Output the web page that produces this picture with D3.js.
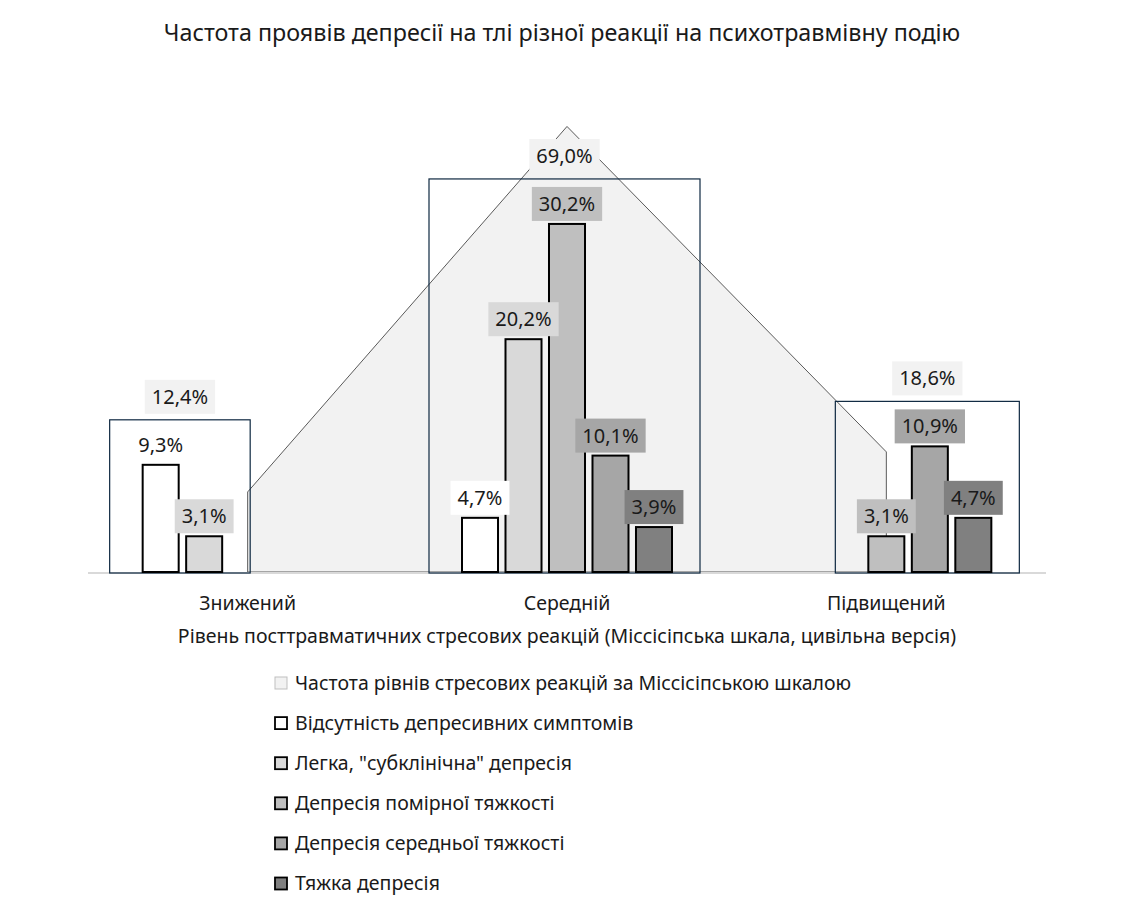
<!DOCTYPE html>
<html>
<head>
<meta charset="utf-8">
<script src="https://cdn.jsdelivr.net/npm/d3@7"></script>
<style>
  body { margin: 0; background: #fff; }
  text { font-family: "Noto Sans", sans-serif; fill: #1a1a1a; }
</style>
</head>
<body>
<div id="chart"></div>
<script>
const categories = ["Знижений", "Середній", "Підвищений"];
const totals = [12.4, 69.0, 18.6];
const seriesNames = [
    "Відсутність депресивних симптомів",
    "Легка, \"субклінічна\" депресія",
    "Депресія помірної тяжкості",
    "Депресія середньої тяжкості",
    "Тяжка депресія"
];
const noSymptoms = [9.3, 4.7, 0];
const mild = [3.1, 20.2, 0];
const moderate = [0, 30.2, 3.1];
const medium = [0, 10.1, 10.9];
const severe = [0, 3.9, 4.7];
const totalName = "Частота рівнів стресових реакцій за Міссісіпською шкалою";

const seriesValues = [noSymptoms, mild, moderate, medium, severe];
const fills = ["#ffffff", "#d9d9d9", "#bfbfbf", "#a6a6a6", "#808080"];

const width = 1125, height = 913;
const baseY = 572;

const svg = d3.select("#chart")
    .append("svg")
    .attr("width", width)
    .attr("height", height);

const fmt = v => d3.format(".1f")(v).replace(".", ",") + "%";

const x0 = d3.scaleBand().domain(categories).range([88, 1046]);
const x1 = d3.scaleBand().domain(d3.range(5)).range([-105, 105]).paddingInner(0.172);
const y = d3.scaleLinear().domain([0, 40]).range([baseY, 111]);
const y2 = d3.scaleLinear().domain([0, 70]).range([baseY, 120]);
const cx = c => x0(c) + x0.bandwidth() / 2;

// title
svg.append("text")
    .attr("x", 562).attr("y", 41)
    .attr("text-anchor", "middle")
    .style("font-size", "23.3px")
    .text("Частота проявів депресії на тлі різної реакції на психотравмівну подію");

// area of totals
const areaGen = d3.area()
    .x((d, i) => cx(categories[i]))
    .y0(baseY)
    .y1(d => y2(d));
svg.append("path")
    .datum(totals)
    .attr("d", areaGen)
    .attr("fill", "#f2f2f2")
    .attr("stroke", "#595959")
    .attr("stroke-width", 1);

// axis line
svg.append("line")
    .attr("x1", 88).attr("x2", 1046)
    .attr("y1", baseY + 1).attr("y2", baseY + 1)
    .attr("stroke", "#d9d9d9")
    .attr("stroke-width", 2);

// group frames
const groups = categories.map((c, ci) => {
    const vis = d3.range(5).filter(s => seriesValues[s][ci] > 0);
    const left = cx(c) + x1(vis[0]) - 33;
    const right = cx(c) + x1(vis[vis.length - 1]) + x1.bandwidth() + 28;
    const top = y(d3.max(vis, s => seriesValues[s][ci])) - 45;
    return { c, ci, left, right, top };
});

svg.append("g")
    .selectAll("rect")
    .data(groups)
    .join("rect")
    .attr("x", d => d.left)
    .attr("y", d => d.top)
    .attr("width", d => d.right - d.left)
    .attr("height", d => baseY + 1 - d.top)
    .attr("fill", "none")
    .attr("stroke", "#0e2841")
    .attr("stroke-width", 1.2);

// bars
const bars = [];
categories.forEach((c, ci) => {
    seriesValues.forEach((vals, s) => {
        if (vals[ci] > 0) bars.push({ c, s, v: vals[ci] });
    });
});

svg.append("g")
    .selectAll("rect")
    .data(bars)
    .join("rect")
    .attr("x", d => cx(d.c) + x1(d.s))
    .attr("y", d => y(d.v))
    .attr("width", x1.bandwidth())
    .attr("height", d => baseY - y(d.v))
    .attr("fill", d => fills[d.s])
    .attr("stroke", "#000")
    .attr("stroke-width", 2);

// labels with background
function label(g, xc, yc, txt, bg) {
    const t = g.append("text")
        .attr("x", xc).attr("y", yc)
        .attr("dy", "0.35em")
        .attr("text-anchor", "middle")
        .style("font-size", "20px")
        .text(txt);
    const w = t.node().getComputedTextLength();
    g.insert("rect", "text")
        .attr("x", xc - w / 2 - 7)
        .attr("y", yc - 17)
        .attr("width", w + 14)
        .attr("height", 34)
        .attr("fill", bg);
}

bars.forEach(d => {
    const g = svg.append("g");
    label(g, cx(d.c) + x1(d.s) + x1.bandwidth() / 2, y(d.v) - 20, fmt(d.v), fills[d.s]);
});

groups.forEach(d => {
    const g = svg.append("g");
    label(g, (d.left + d.right) / 2, d.top - 23, fmt(totals[d.ci]), "#f2f2f2");
});

// category labels
svg.append("g")
    .selectAll("text")
    .data(categories)
    .join("text")
    .attr("x", d => cx(d))
    .attr("y", 610)
    .attr("text-anchor", "middle")
    .style("font-size", "19.5px")
    .text(d => d);

svg.append("text")
    .attr("x", 567).attr("y", 643)
    .attr("text-anchor", "middle")
    .style("font-size", "19.5px")
    .text("Рівень посттравматичних стресових реакцій (Міссісіпська шкала, цивільна версія)");

// legend
const legendItems = [{ name: totalName, fill: "#f2f2f2", stroke: "#bfbfbf" }]
    .concat(seriesNames.map((n, i) => ({ name: n, fill: fills[i], stroke: "#000" })));

const legend = svg.append("g")
    .selectAll("g")
    .data(legendItems)
    .join("g")
    .attr("transform", (d, i) => `translate(274, ${683 + i * 40.1})`);

legend.append("rect")
    .attr("x", 1).attr("y", -6)
    .attr("width", 12).attr("height", 12)
    .attr("fill", d => d.fill)
    .attr("stroke", d => d.stroke)
    .attr("stroke-width", (d, i) => i === 0 ? 1 : 1.8);

legend.append("text")
    .attr("x", 21)
    .attr("dy", "0.35em")
    .style("font-size", "19.5px")
    .text(d => d.name);
</script>
</body>
</html>
